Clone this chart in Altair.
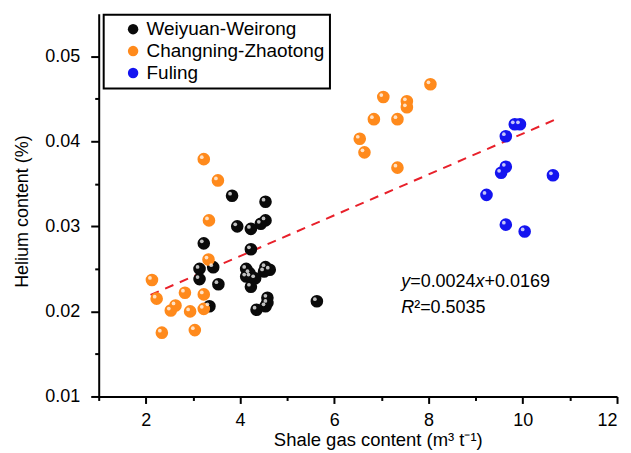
import altair as alt
import pandas as pd

# ---- data ----
ww_x = [3.83, 4.54, 4.54, 4.44, 3.94, 4.23, 3.23, 4.23, 3.14, 3.43, 4.13, 4.54, 4.63,
        4.51, 4.13, 4.32, 3.14, 3.54, 4.23, 4.58, 4.58, 3.35, 4.35, 4.54, 5.63, 4.22, 4.20]
ww_y = [0.0336, 0.0329, 0.0307, 0.0303, 0.0300, 0.0297, 0.0280, 0.0273, 0.0250, 0.0252,
        0.0250, 0.0252, 0.0249, 0.0247, 0.0241, 0.0239, 0.0238, 0.0232, 0.0229, 0.0216,
        0.0210, 0.0206, 0.0202, 0.0206, 0.0212, 0.0241, 0.0245]

cz_x = [3.23, 3.53, 3.34, 3.33, 2.13, 2.23, 2.83, 3.23, 2.63, 2.53, 2.94, 3.23, 2.34, 3.04,
        8.04, 7.04, 7.54, 7.54, 6.84, 7.34, 6.54, 6.64, 7.34]
cz_y = [0.0379, 0.0354, 0.0307, 0.0261, 0.0237, 0.0215, 0.0222, 0.0220, 0.0207, 0.0201,
        0.0200, 0.0203, 0.0175, 0.0178,
        0.0467, 0.0452, 0.0447, 0.0440, 0.0426, 0.0426, 0.0403, 0.0387, 0.0369]

fl_x = [9.94, 9.83, 9.64, 9.64, 9.54, 10.64, 9.23, 9.64, 10.04]
fl_y = [0.0420, 0.0420, 0.0406, 0.0370, 0.0363, 0.0360, 0.0337, 0.0302, 0.0294]

groups = ["Weiyuan-Weirong", "Changning-Zhaotong", "Fuling"]
colors = ["#0a0a0a", "#ff8a1c", "#1414f0"]

slope, intercept = 0.0024, 0.0169
fit_x = [2.1, 10.75]

x_ticks = list(range(1, 13))
y_ticks = [0.01, 0.015, 0.02, 0.025, 0.03, 0.035, 0.04, 0.045, 0.05]

# ---- tables ----
rows = []
for g, xs, ys in zip(groups, [ww_x, cz_x, fl_x], [ww_y, cz_y, fl_y]):
    for a, b in zip(xs, ys):
        rows.append({"gas": a, "he": b, "group": g})
df = pd.DataFrame(rows)
fit = pd.DataFrame({"gas": fit_x, "he": [slope * v + intercept for v in fit_x]})

FONT = "Liberation Sans"

major_y = "abs(datum.value*100 - round(datum.value*100)) < 0.001"
major_x = "datum.value % 2 == 0"

xscale = alt.Scale(domain=[1, 12], nice=False, zero=False)
yscale = alt.Scale(domain=[0.01, 0.055], nice=False, zero=False)

xaxis = alt.Axis(
    values=x_ticks, title="Shale gas content (m³ t⁻¹)", grid=False,
    labelExpr=f"{major_x} ? datum.label : ''",
    tickSize={"condition": {"test": major_x, "value": 7}, "value": 4},
    labelPadding=8, titlePadding=1, titleFontSize=18.5, titleX=280,
)
yaxis = alt.Axis(
    values=y_ticks, title="Helium content (%)", grid=False,
    labelExpr=f"{major_y} ? format(datum.value, '.2f') : ''",
    tickSize={"condition": {"test": major_y, "value": 8}, "value": 4},
    labelPadding=11, titlePadding=13, titleY=198,
)

color = alt.Color(
    "group:N",
    scale=alt.Scale(domain=groups, range=colors),
    legend=alt.Legend(
        title=None, orient="none", legendX=5, legendY=1,
        strokeColor="black", fillColor="white",
        padding=5, symbolOffset=15, rowPadding=2, labelLimit=400,
        labelFont=FONT, labelFontSize=19, symbolSize=110,
        symbolType="circle", symbolStrokeWidth=0,
    ),
)

pts = alt.Chart(df).mark_circle(size=160, opacity=1).encode(
    x=alt.X("gas:Q", scale=xscale, axis=xaxis),
    y=alt.Y("he:Q", scale=yscale, axis=yaxis),
    color=color,
)

shine = alt.Chart(df).mark_circle(size=14, color="white", opacity=0.75).encode(
    x=alt.X("gas:Q", scale=xscale),
    y=alt.Y("he:Q", scale=yscale),
    xOffset=alt.value(-2),
    yOffset=alt.value(-2),
)

line = alt.Chart(fit).mark_line(color="#e8202a", strokeWidth=2, strokeDash=[9, 7]).encode(
    x=alt.X("gas:Q", scale=xscale),
    y=alt.Y("he:Q", scale=yscale),
)

ann_x = 7.42
ann = pd.DataFrame({"gas": [ann_x], "he1": [0.0229], "he2": [0.0198]})


def piece(txt, ycol, dx, italic=False):
    return alt.Chart(ann).mark_text(
        text=txt, align="left", baseline="alphabetic", dx=dx,
        font=FONT, fontSize=18, fontStyle="italic" if italic else "normal", color="black",
    ).encode(x=alt.X("gas:Q", scale=xscale), y=alt.Y(f"{ycol}:Q", scale=yscale))


texts = [
    piece("y", "he1", 0, True),
    piece("=0.0024", "he1", 9),
    piece("x", "he1", 74.6, True),
    piece("+0.0169", "he1", 83.6),
    piece("R", "he2", 0, True),
    piece("²=0.5035", "he2", 13),
]

chart = alt.layer(line, pts, shine, *texts).properties(
    width=520, height=384
).configure_view(stroke=None).configure_axis(
    domainColor="black", domainWidth=2, tickColor="black", tickWidth=2,
    labelFont=FONT, labelFontSize=18, labelColor="black",
    titleFont=FONT, titleFontSize=18, titleFontWeight="normal", titleColor="black",
).configure_legend(strokeWidth=2)

chart.save("out.html", embed_options={"renderer": "svg", "actions": False})
